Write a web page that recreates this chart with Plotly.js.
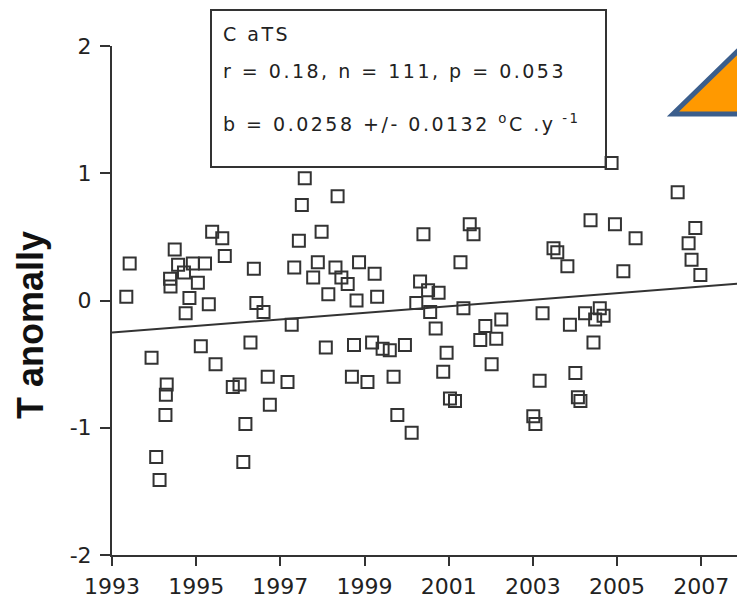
<!DOCTYPE html>
<html>
<head>
<meta charset="utf-8">
<script src="https://cdn.plot.ly/plotly-3.0.1.min.js"></script>
<style>
  html, body { margin: 0; padding: 0; background: #fff; }
  #chart { width: 737px; height: 600px; }
</style>
</head>
<body>
<div id="chart"></div>
<script>
// CaTS temperature anomaly, one point per observation
const years = [
  1993.34, 1993.42, 1993.94, 1994.05, 1994.13, 1994.27, 1994.28, 1994.30, 1994.38, 1994.39,
  1994.49, 1994.57, 1994.71, 1994.75, 1994.84, 1994.92, 1995.04, 1995.11, 1995.21, 1995.30,
  1995.38, 1995.46, 1995.62, 1995.68, 1995.87, 1996.03, 1996.12, 1996.17, 1996.29, 1996.37,
  1996.43, 1996.60, 1996.70, 1996.75, 1997.17, 1997.27, 1997.33, 1997.44, 1997.51, 1997.58,
  1997.78, 1997.89, 1997.98, 1998.08, 1998.14, 1998.31, 1998.36, 1998.45, 1998.60, 1998.70,
  1998.75, 1998.81, 1998.87, 1999.07, 1999.18, 1999.24, 1999.30, 1999.43, 1999.60, 1999.69,
  1999.78, 1999.96, 2000.12, 2000.23, 2000.32, 2000.40, 2000.51, 2000.56, 2000.69, 2000.76,
  2000.87, 2000.95, 2001.03, 2001.15, 2001.28, 2001.35, 2001.50, 2001.59, 2001.75, 2001.87,
  2002.02, 2002.13, 2002.25, 2003.01, 2003.06, 2003.16, 2003.23, 2003.49, 2003.58, 2003.82,
  2003.88, 2004.01, 2004.07, 2004.13, 2004.24, 2004.37, 2004.44, 2004.48, 2004.59, 2004.68,
  2004.87, 2004.95, 2005.15, 2005.44, 2006.44, 2006.70, 2006.77, 2006.86, 2006.98
];
const anomaly = [
  0.03, 0.29, -0.45, -1.23, -1.41, -0.90, -0.74, -0.66, 0.17, 0.11,
  0.40, 0.28, 0.22, -0.10, 0.02, 0.29, 0.14, -0.36, 0.29, -0.03,
  0.54, -0.50, 0.49, 0.35, -0.68, -0.66, -1.27, -0.97, -0.33, 0.25,
  -0.02, -0.09, -0.60, -0.82, -0.64, -0.19, 0.26, 0.47, 0.75, 0.96,
  0.18, 0.30, 0.54, -0.37, 0.05, 0.26, 0.82, 0.18, 0.13, -0.60,
  -0.35, 0.00, 0.30, -0.64, -0.33, 0.21, 0.03, -0.38, -0.39, -0.60,
  -0.90, -0.35, -1.04, -0.02, 0.15, 0.52, 0.08, -0.09, -0.22, 0.06,
  -0.56, -0.41, -0.77, -0.79, 0.30, -0.06, 0.60, 0.52, -0.31, -0.20,
  -0.50, -0.30, -0.15, -0.91, -0.97, -0.63, -0.10, 0.41, 0.38, 0.27,
  -0.19, -0.57, -0.76, -0.79, -0.10, 0.63, -0.33, -0.15, -0.06, -0.12,
  1.08, 0.60, 0.23, 0.49, 0.85, 0.45, 0.32, 0.57, 0.20
];

// Linear fit: slope b (°C per year) and value at the start year
const slopeB = 0.0258;
const fitStartYear = 1993;
const fitStartValue = -0.252;
const fitYears = [1993, 2008];
const fitValues = fitYears.map(y => fitStartValue + slopeB * (y - fitStartYear));

const xTicks = [1993, 1995, 1997, 1999, 2001, 2003, 2005, 2007];
const yTicks = [-2, -1, 0, 1, 2];

const statsLines = [
  'C aTS',
  'r = 0.18, n = 111, p = 0.053',
  'b = 0.0258 +/- 0.0132 <sup>o</sup>C .y<sup> -1</sup>'
];

const ink = '#333333';
const tickFont = { family: 'DejaVu Sans, sans-serif', size: 22, color: '#222222' };
const boxFont = { family: 'DejaVu Sans, sans-serif', size: 19, color: '#222222' };

// pixel -> paper helpers for the frame of the plot area
const L = 112, R = 737, T = 46, B = 555;
const px = v => (v - L) / (R - L);
const py = v => (B - v) / (B - T);

const traces = [
  {
    x: fitYears, y: fitValues, type: 'scatter', mode: 'lines',
    line: { color: ink, width: 2 }, hoverinfo: 'skip', showlegend: false
  },
  {
    x: years, y: anomaly, type: 'scatter', mode: 'markers',
    marker: { symbol: 'square-open', size: 12, color: ink, line: { width: 2, color: ink } },
    showlegend: false, cliponaxis: false
  }
];

const layout = {
  width: 737, height: 600,
  margin: { l: L, r: 0, t: T, b: 600 - B, pad: 0 },
  paper_bgcolor: '#ffffff', plot_bgcolor: '#ffffff',
  showlegend: false,
  xaxis: {
    range: [1993, 2007.85], tickvals: xTicks, ticktext: xTicks.map(String),
    showgrid: false, zeroline: false, showline: true, linecolor: ink, linewidth: 2,
    ticks: 'outside', ticklen: 9, tickwidth: 2, tickcolor: ink, tickfont: tickFont,
    ticklabelstandoff: 2
  },
  yaxis: {
    range: [-2, 2], tickvals: yTicks, ticktext: yTicks.map(String),
    showgrid: false, zeroline: false, showline: true, linecolor: ink, linewidth: 2,
    ticks: 'outside', ticklen: 10, tickwidth: 2, tickcolor: ink, tickfont: tickFont,
    ticklabelstandoff: 4
  },
  shapes: [
    {
      type: 'rect', xref: 'paper', yref: 'paper',
      x0: px(211), x1: px(606), y0: py(167), y1: py(10),
      line: { color: ink, width: 2 }, fillcolor: 'rgba(0,0,0,0)'
    },
    {
      type: 'path', xref: 'paper', yref: 'paper',
      path: `M ${px(673)} ${py(114)} L ${px(780)} ${py(10)} L ${px(780)} ${py(114)} Z`,
      fillcolor: '#FF9900', line: { color: '#3B5E8C', width: 5 }
    }
  ],
  annotations: [
    {
      text: '<b>T anomally</b>', textangle: -90, showarrow: false,
      xref: 'paper', yref: 'paper', x: px(30), y: py(325),
      xanchor: 'center', yanchor: 'middle',
      font: { family: 'Liberation Sans, Arial, sans-serif', size: 36, color: '#111111' }
    },
    {
      text: statsLines[0], showarrow: false, xref: 'paper', yref: 'paper',
      x: px(221), y: py(34), xanchor: 'left', yanchor: 'middle', font: boxFont
    },
    {
      text: statsLines[1], showarrow: false, xref: 'paper', yref: 'paper',
      x: px(221), y: py(71), xanchor: 'left', yanchor: 'middle', font: boxFont
    },
    {
      text: statsLines[2], showarrow: false, xref: 'paper', yref: 'paper',
      x: px(221), y: py(123), xanchor: 'left', yanchor: 'middle', font: boxFont
    }
  ]
};

Plotly.newPlot('chart', traces, layout, { staticPlot: true, displayModeBar: false }).then(gd => {
  // the statistics box uses a widely tracked typeface; keep each line's left edge fixed
  gd.querySelectorAll('.annotation-text').forEach(t => {
    if (t.getAttribute('data-unformatted') === '<b>T anomally</b>') return;
    const box = t.getBBox();
    t.setAttribute('text-anchor', 'start');
    t.setAttribute('x', box.x);
    t.style.letterSpacing = '2.5px';
  });
});
</script>
</body>
</html>
